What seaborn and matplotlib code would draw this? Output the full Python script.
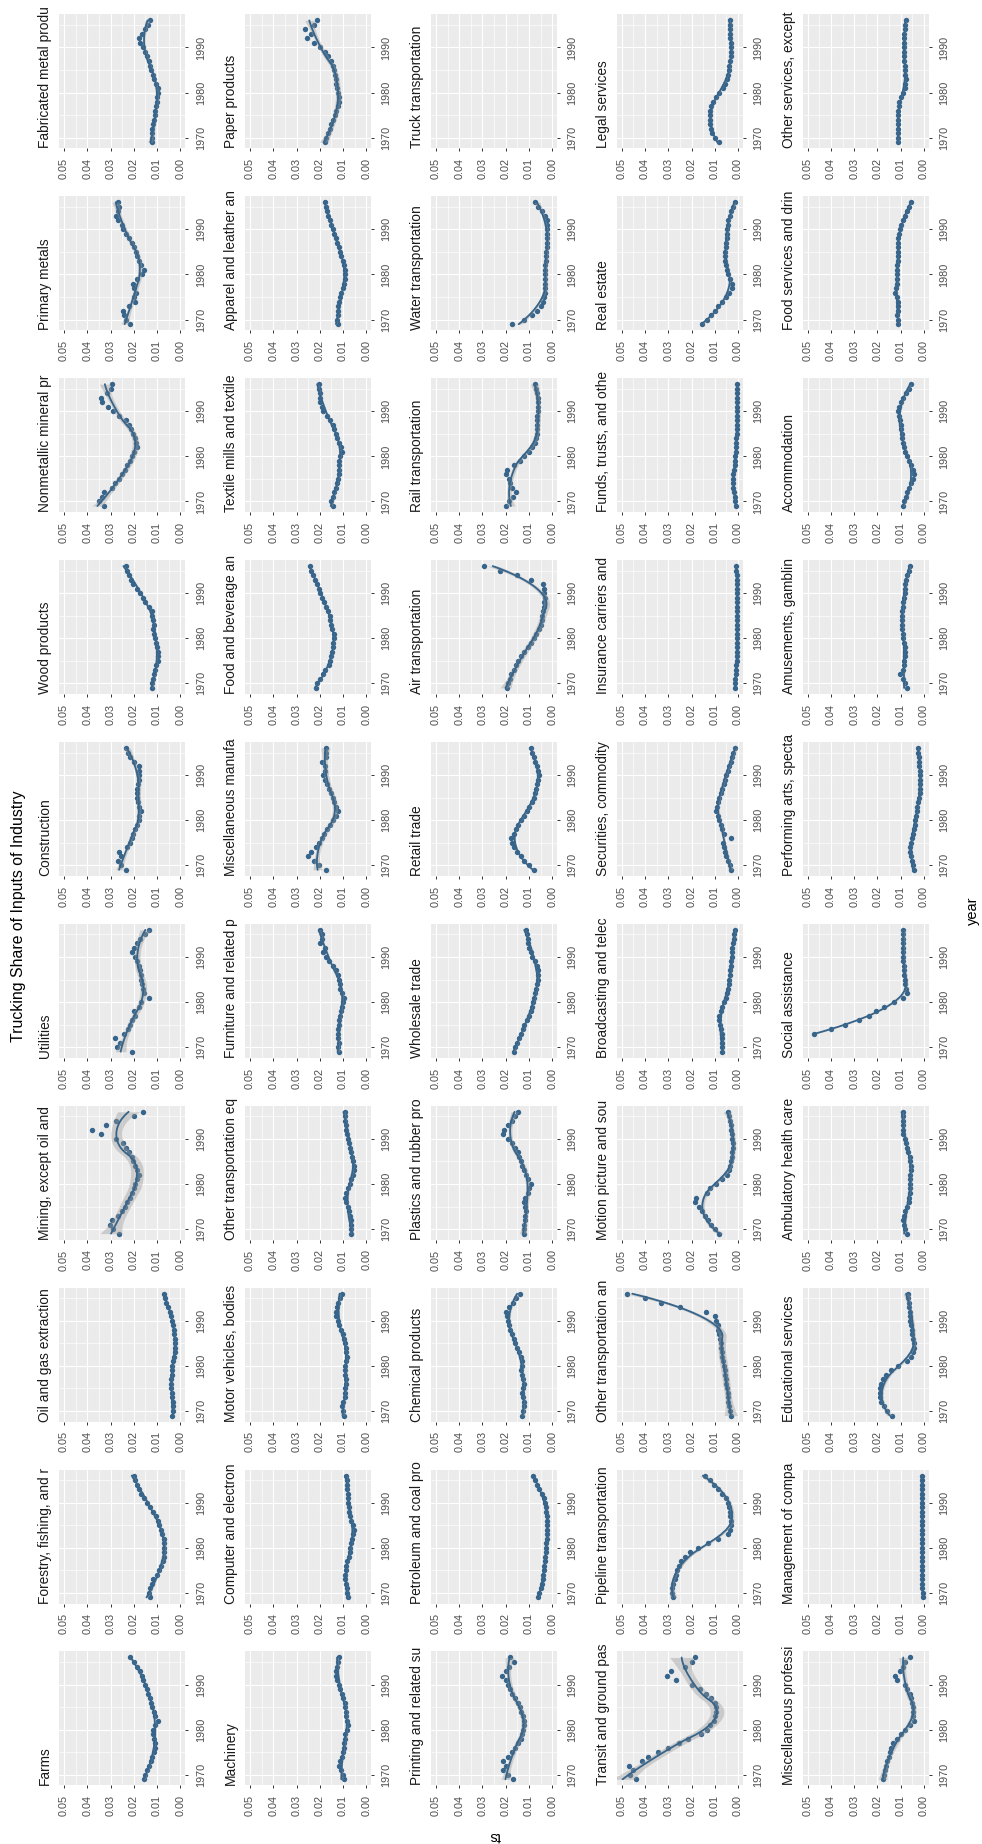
import numpy as np
import matplotlib
matplotlib.use("Agg")
import matplotlib.pyplot as plt
import seaborn as sns

# ---- data ----
years = list(range(1969, 1997))

industries = [
    "Farms", "Forestry, fishing, and related activities", "Oil and gas extraction",
    "Mining, except oil and gas", "Utilities", "Construction", "Wood products",
    "Nonmetallic mineral products", "Primary metals", "Fabricated metal products",
    "Machinery", "Computer and electronic products",
    "Motor vehicles, bodies and trailers, and parts", "Other transportation equipment",
    "Furniture and related products", "Miscellaneous manufacturing",
    "Food and beverage and tobacco products", "Textile mills and textile product mills",
    "Apparel and leather and allied products", "Paper products",
    "Printing and related support activities", "Petroleum and coal products",
    "Chemical products", "Plastics and rubber products", "Wholesale trade",
    "Retail trade", "Air transportation", "Rail transportation",
    "Water transportation", "Truck transportation",
    "Transit and ground passenger transportation", "Pipeline transportation",
    "Other transportation and support activities",
    "Motion picture and sound recording industries",
    "Broadcasting and telecommunications",
    "Securities, commodity contracts, and investments",
    "Insurance carriers and related activities",
    "Funds, trusts, and other financial vehicles", "Real estate", "Legal services",
    "Miscellaneous professional, scientific, and technical services",
    "Management of companies and enterprises", "Educational services",
    "Ambulatory health care services", "Social assistance",
    "Performing arts, spectator sports, museums, and related activities",
    "Amusements, gambling, and recreation industries", "Accommodation",
    "Food services and drinking places", "Other services, except government",
]

farms = [.0155, .0151, .0145, .0137, .0128, .0120, .0112,
         .0107, .0110, .0114, .0116, .0118, .0110, .0097,
         .0108, .0115, .0120, .0126, .0132, .0138, .0145,
         .0152, .0160, .0166, .0175, .0185, .0201, .0218]
forestry = [.0130, .0136, .0130, .0124, .0116, .0102, .0092,
            .0082, .0074, .0071, .0070, .0071, .0072, .0071,
            .0078, .0085, .0092, .0098, .0104, .0118, .0132,
            .0145, .0158, .0168, .0178, .0188, .0195, .0201]
oil_gas = [.0037, .0032, .0030, .0032, .0035, .0037, .0040,
           .0042, .0040, .0038, .0037, .0034, .0030, .0027,
           .0025, .0024, .0024, .0024, .0026, .0028, .0030,
           .0035, .0040, .0045, .0052, .0060, .0066, .0071]
mining = [.0262, .0290, .0302, .0294, .0268, .0250, .0240,
          .0228, .0218, .0209, .0200, .0196, .0185, .0177,
          .0185, .0196, .0205, .0209, .0222, .0235, .0248,
          .0275, .0341, .0381, .0320, .0275, .0201, .0161]
utilities = [.0208, .0272, .0258, .0279, .0244, .0226, .0215,
             .0208, .0194, .0200, .0180, .0170, .0137, .0158,
             .0160, .0165, .0168, .0170, .0172, .0180, .0187,
             .0195, .0208, .0201, .0185, .0172, .0150, .0137]
construction = [.0235, .0257, .0268, .0254, .0262, .0228, .0218,
                .0210, .0205, .0196, .0186, .0180, .0176, .0170,
                .0178, .0183, .0186, .0188, .0185, .0182, .0180,
                .0177, .0176, .0178, .0200, .0215, .0225, .0235]
wood = [.0122, .0120, .0116, .0112, .0108, .0103, .0098,
        .0095, .0098, .0102, .0105, .0108, .0112, .0116,
        .0115, .0117, .0120, .0122, .0135, .0150, .0162,
        .0172, .0185, .0205, .0212, .0222, .0228, .0235]
nonmetallic = [.0330, .0348, .0335, .0328, .0295, .0280, .0262,
               .0250, .0240, .0228, .0218, .0209, .0200, .0185,
               .0190, .0196, .0205, .0212, .0222, .0235, .0262,
               .0288, .0310, .0335, .0340, .0315, .0300, .0294]
primary_metals = [.0215, .0235, .0242, .0245, .0222, .0196, .0200,
                  .0190, .0200, .0204, .0185, .0165, .0158, .0170,
                  .0176, .0185, .0192, .0200, .0210, .0220, .0232,
                  .0245, .0252, .0268, .0276, .0268, .0265, .0268]
fabricated = [.0124, .0122, .0120, .0122, .0118, .0112, .0108,
              .0110, .0105, .0100, .0100, .0097, .0098, .0105,
              .0112, .0118, .0125, .0130, .0135, .0142, .0150,
              .0160, .0172, .0180, .0166, .0150, .0138, .0130]
machinery = [.0097, .0102, .0110, .0118, .0112, .0105, .0100,
             .0097, .0095, .0093, .0090, .0084, .0078, .0082,
             .0086, .0089, .0091, .0093, .0099, .0105, .0112,
             .0118, .0126, .0131, .0128, .0124, .0121, .0118]
computer = [.0078, .0082, .0084, .0088, .0090, .0092, .0088,
            .0085, .0082, .0076, .0071, .0068, .0066, .0062,
            .0056, .0052, .0058, .0065, .0070, .0073, .0075,
            .0077, .0078, .0080, .0082, .0084, .0084, .0085]
motor_vehicles = [.0097, .0100, .0105, .0098, .0093, .0092, .0090,
                  .0087, .0088, .0090, .0092, .0090, .0087, .0084,
                  .0086, .0089, .0092, .0096, .0102, .0110, .0118,
                  .0123, .0128, .0131, .0126, .0120, .0112, .0105]
other_trans_equip = [.0065, .0066, .0065, .0067, .0070, .0074, .0078,
                     .0086, .0092, .0088, .0080, .0072, .0064, .0058,
                     .0054, .0052, .0055, .0060, .0064, .0070, .0074,
                     .0078, .0082, .0086, .0088, .0090, .0092, .0092]
furniture = [.0118, .0120, .0119, .0121, .0123, .0120, .0118,
             .0118, .0114, .0110, .0105, .0100, .0097, .0104,
             .0112, .0115, .0117, .0120, .0132, .0145, .0160,
             .0172, .0184, .0176, .0197, .0189, .0192, .0197]
misc_mfg = [.0172, .0203, .0224, .0250, .0237, .0215, .0205,
            .0190, .0180, .0168, .0158, .0145, .0130, .0123,
            .0131, .0138, .0144, .0152, .0160, .0170, .0178,
            .0184, .0176, .0178, .0189, .0175, .0171, .0172]
food_bev = [.0215, .0210, .0198, .0188, .0178, .0160, .0154,
            .0150, .0147, .0144, .0142, .0140, .0138, .0146,
            .0150, .0154, .0158, .0164, .0171, .0180, .0190,
            .0198, .0205, .0211, .0220, .0229, .0236, .0242]
textile = [.0144, .0150, .0145, .0139, .0132, .0124, .0122,
           .0119, .0118, .0118, .0117, .0113, .0105, .0110,
           .0118, .0126, .0132, .0138, .0144, .0155, .0170,
           .0184, .0190, .0197, .0198, .0200, .0203, .0203]
apparel = [.0123, .0124, .0123, .0122, .0120, .0118, .0113,
           .0107, .0100, .0096, .0093, .0092, .0092, .0096,
           .0102, .0108, .0114, .0118, .0125, .0131, .0138,
           .0144, .0150, .0156, .0163, .0168, .0173, .0177]
paper = [.0176, .0172, .0166, .0158, .0150, .0142, .0135,
         .0128, .0122, .0118, .0118, .0123, .0126, .0128,
         .0131, .0134, .0138, .0144, .0152, .0165, .0176,
         .0197, .0224, .0255, .0237, .0262, .0225, .0211]
printing = [.0168, .0190, .0212, .0200, .0210, .0190, .0172,
            .0158, .0146, .0136, .0128, .0124, .0120, .0122,
            .0127, .0134, .0140, .0146, .0160, .0172, .0182,
            .0191, .0200, .0215, .0198, .0186, .0165, .0181]
petroleum = [.0060, .0055, .0050, .0045, .0041, .0038, .0035,
             .0033, .0032, .0030, .0028, .0027, .0025, .0023,
             .0022, .0022, .0022, .0022, .0024, .0026, .0028,
             .0031, .0035, .0044, .0055, .0066, .0075, .0082]
chemical = [.0128, .0125, .0122, .0120, .0124, .0128, .0124,
            .0120, .0125, .0130, .0133, .0130, .0128, .0136,
            .0144, .0152, .0160, .0166, .0174, .0181, .0186,
            .0191, .0195, .0200, .0185, .0170, .0155, .0140]
plastics = [.0120, .0122, .0120, .0118, .0115, .0112, .0116,
            .0120, .0115, .0106, .0100, .0093, .0102, .0112,
            .0122, .0130, .0136, .0142, .0146, .0160, .0172,
            .0190, .0212, .0205, .0191, .0172, .0160, .0146]
wholesale = [.0165, .0158, .0150, .0142, .0135, .0127, .0120,
             .0110, .0101, .0093, .0087, .0082, .0077, .0073,
             .0069, .0066, .0063, .0062, .0063, .0067, .0075,
             .0085, .0093, .0100, .0104, .0106, .0108, .0112]
retail = [.0080, .0100, .0120, .0135, .0150, .0162, .0172,
          .0175, .0166, .0155, .0146, .0133, .0122, .0110,
          .0098, .0088, .0080, .0074, .0068, .0064, .0060,
          .0058, .0060, .0066, .0072, .0080, .0087, .0093]
air = [.0195, .0190, .0182, .0175, .0165, .0155, .0146,
       .0132, .0120, .0105, .0093, .0080, .0068, .0058,
       .0050, .0045, .0042, .0040, .0036, .0033, .0032,
       .0033, .0035, .0040, .0090, .0150, .0226, .0292]
rail = [.0198, .0186, .0170, .0154, .0173, .0181, .0185,
        .0198, .0196, .0165, .0140, .0120, .0100, .0085,
        .0075, .0069, .0067, .0067, .0066, .0065, .0064,
        .0063, .0062, .0062, .0063, .0066, .0070, .0075]
water = [.0172, .0120, .0085, .0067, .0048, .0040, .0034,
         .0032, .0032, .0032, .0032, .0032, .0031, .0030,
         .0028, .0027, .0025, .0023, .0022, .0022, .0022,
         .0022, .0022, .0024, .0032, .0045, .0060, .0072]
truck = []  # no data shown for the industry itself
transit = [.0440, .0465, .0450, .0470, .0412, .0386, .0346,
           .0300, .0253, .0214, .0160, .0135, .0121, .0105,
           .0100, .0095, .0095, .0098, .0115, .0140, .0165,
           .0200, .0265, .0306, .0290, .0230, .0200, .0187]
pipeline = [.0280, .0285, .0282, .0280, .0272, .0266, .0262,
            .0255, .0245, .0227, .0205, .0174, .0130, .0085,
            .0045, .0035, .0029, .0030, .0034, .0036, .0040,
            .0045, .0052, .0068, .0085, .0105, .0121, .0142]
other_trans_support = [.0029, .0034, .0038, .0042, .0043, .0044, .0047,
                       .0050, .0052, .0055, .0058, .0062, .0065, .0067,
                       .0069, .0072, .0075, .0078, .0082, .0085, .0088,
                       .0095, .0100, .0140, .0250, .0330, .0400, .0478]
motion = [.0081, .0100, .0115, .0128, .0142, .0155, .0169,
          .0187, .0179, .0134, .0121, .0095, .0068, .0047,
          .0038, .0034, .0030, .0028, .0025, .0023, .0023,
          .0024, .0026, .0029, .0032, .0036, .0040, .0042]
broadcasting = [.0068, .0068, .0069, .0070, .0071, .0073, .0076,
                .0081, .0080, .0075, .0068, .0060, .0052, .0046,
                .0042, .0039, .0037, .0035, .0034, .0032, .0030,
                .0028, .0026, .0024, .0021, .0019, .0017, .0015]
securities = [.0029, .0036, .0044, .0050, .0055, .0060, .0063,
              .0030, .0062, .0068, .0074, .0081, .0088, .0095,
              .0090, .0085, .0080, .0074, .0068, .0062, .0056,
              .0050, .0044, .0038, .0032, .0026, .0020, .0015]
insurance = [.0015, .0013, .0011, .0010, .0008, .0007, .0006,
             .0006, .0005, .0005, .0005, .0005, .0005, .0005,
             .0005, .0005, .0005, .0005, .0005, .0005, .0005,
             .0005, .0005, .0005, .0006, .0006, .0007, .0007]
funds = [.0010, .0012, .0014, .0017, .0020, .0021, .0021,
         .0020, .0018, .0015, .0013, .0011, .0010, .0009,
         .0008, .0007, .0006, .0006, .0005, .0005, .0005,
         .0005, .0004, .0004, .0004, .0003, .0003, .0003]
real_estate = [.0153, .0134, .0118, .0100, .0085, .0070, .0052,
               .0040, .0024, .0025, .0035, .0042, .0048, .0053,
               .0055, .0055, .0054, .0052, .0050, .0049, .0047,
               .0046, .0044, .0042, .0036, .0029, .0022, .0015]
legal = [.0081, .0098, .0110, .0116, .0120, .0121, .0122,
         .0121, .0116, .0108, .0097, .0080, .0065, .0056,
         .0048, .0043, .0040, .0037, .0034, .0032, .0030,
         .0029, .0030, .0033, .0034, .0034, .0034, .0034]
misc_prof = [.0176, .0172, .0168, .0163, .0158, .0152, .0147,
             .0140, .0133, .0118, .0100, .0080, .0060, .0042,
             .0045, .0046, .0048, .0052, .0056, .0062, .0072,
             .0083, .0118, .0125, .0104, .0092, .0083, .0060]
management = [.0006, .0006, .0007, .0007, .0007, .0008, .0008,
              .0008, .0008, .0008, .0009, .0009, .0009, .0009,
              .0009, .0009, .0009, .0009, .0010, .0010, .0010,
              .0010, .0010, .0010, .0010, .0010, .0010, .0010]
educational = [.0136, .0157, .0172, .0185, .0189, .0190, .0188,
               .0184, .0175, .0162, .0140, .0110, .0075, .0055,
               .0045, .0043, .0043, .0046, .0050, .0053, .0056,
               .0058, .0060, .0062, .0064, .0066, .0068, .0070]
ambulatory = [.0075, .0080, .0086, .0091, .0086, .0080, .0072,
              .0066, .0063, .0062, .0061, .0060, .0059, .0058,
              .0057, .0057, .0058, .0062, .0067, .0073, .0078,
              .0083, .0088, .0091, .0091, .0091, .0091, .0091]
# values above 0.05 fall outside the plotted range
social = [None, None, None, None, .0472, .0400, .0340,
          .0280, .0235, .0205, .0170, .0130, .0092, .0075,
          .0078, .0080, .0083, .0084, .0086, .0087, .0088,
          .0088, .0088, .0088, .0088, .0088, .0088, .0088]
performing = [.0043, .0047, .0052, .0057, .0062, .0060, .0057,
              .0052, .0048, .0043, .0040, .0038, .0036, .0032,
              .0028, .0025, .0022, .0019, .0017, .0017, .0017,
              .0017, .0019, .0021, .0022, .0023, .0024, .0025]
amusements = [.0075, .0083, .0092, .0101, .0091, .0087, .0084,
              .0083, .0083, .0083, .0085, .0088, .0091, .0093,
              .0095, .0096, .0095, .0093, .0091, .0088, .0085,
              .0083, .0083, .0083, .0078, .0072, .0066, .0062]
accommodation = [.0088, .0084, .0078, .0071, .0064, .0057, .0048,
                 .0043, .0048, .0057, .0066, .0074, .0081, .0086,
                 .0091, .0094, .0096, .0098, .0100, .0103, .0107,
                 .0110, .0107, .0098, .0089, .0078, .0066, .0057]
food_svc = [.0110, .0113, .0115, .0113, .0110, .0112, .0118,
            .0123, .0120, .0117, .0115, .0115, .0115, .0115,
            .0113, .0112, .0110, .0110, .0110, .0110, .0108,
            .0104, .0098, .0090, .0082, .0072, .0064, .0057]
other_svc = [.0111, .0111, .0111, .0111, .0110, .0110, .0110,
             .0110, .0109, .0108, .0100, .0090, .0083, .0080,
             .0079, .0080, .0082, .0083, .0084, .0084, .0085,
             .0086, .0087, .0087, .0087, .0083, .0080, .0077]

series = [farms, forestry, oil_gas, mining, utilities, construction, wood,
          nonmetallic, primary_metals, fabricated,
          machinery, computer, motor_vehicles, other_trans_equip, furniture,
          misc_mfg, food_bev, textile, apparel, paper,
          printing, petroleum, chemical, plastics, wholesale, retail, air,
          rail, water, truck,
          transit, pipeline, other_trans_support, motion, broadcasting,
          securities, insurance, funds, real_estate, legal,
          misc_prof, management, educational, ambulatory, social, performing,
          amusements, accommodation, food_svc, other_svc]

ts_ticks = [0.00, 0.01, 0.02, 0.03, 0.04, 0.05]
ts_labels = ["0.00", "0.01", "0.02", "0.03", "0.04", "0.05"]
year_ticks = [1970, 1980, 1990]


def t975(df):
    # 97.5% Student t quantile (Cornish-Fisher expansion)
    z = 1.959964
    g1 = (z**3 + z) / 4
    g2 = (5 * z**5 + 16 * z**3 + 3 * z) / 96
    g3 = (3 * z**7 + 19 * z**5 + 17 * z**3 - 15 * z) / 384
    return z + g1 / df + g2 / df**2 + g3 / df**3


def loess(x, y, xs, span=0.75):
    # local quadratic fit with tricube weights, like R's loess()
    n = len(x)
    q = int(np.floor(n * span))

    def row(x0):
        d = np.abs(x - x0)
        h = np.sort(d)[q - 1] * 1.0001
        w = (1 - np.clip(d / h, 0, 1) ** 3) ** 3
        X = np.column_stack([np.ones(n), x - x0, (x - x0) ** 2])
        XtW = X.T * w
        return np.linalg.solve(XtW @ X, XtW)[0]

    L = np.array([row(v) for v in x])
    M = np.eye(n) - L
    MM = M.T @ M
    d1 = np.trace(MM)
    d2 = np.trace(MM @ MM)
    s = np.sqrt(np.sum((M @ y) ** 2) / d1)
    Ls = np.array([row(v) for v in xs])
    fit = Ls @ y
    se = s * np.sqrt(np.sum(Ls ** 2, axis=1))
    t = t975(d1 ** 2 / d2)
    return fit, fit - t * se, fit + t * se


sns.set_style("darkgrid", {"axes.facecolor": "#EBEBEB", "grid.color": "white"})
plt.rcParams['font.family'] = ['Liberation Sans', 'DejaVu Sans']

W, H = 982, 1844
fig = plt.figure(figsize=(W / 100, H / 100), dpi=100)
renderer = fig.canvas.get_renderer()


def rect(left, top, w, h):
    return [left / W, 1 - (top + h) / H, w / W, h / H]


PT = "#36648B"
col_left = [59 + 185.9 * c for c in range(5)]
row_top = [14.3 + 181.9 * r for r in range(10)]
pw, ph = 126, 134
strip_room = ph + 9     # the strip text is cut off a little above the panel

for k, name in enumerate(industries):
    orow, ocol = divmod(k, 10)
    c, r = orow, 9 - ocol          # picture is turned a quarter turn
    ax = fig.add_axes(rect(col_left[c], row_top[r], pw, ph))
    vals = np.array(series[k], dtype=float)
    if len(vals):
        yr = np.array(years, dtype=float)
        ok = ~np.isnan(vals)
        sns.scatterplot(x=vals, y=yr, ax=ax, color=PT, s=15, linewidth=0,
                        legend=False, zorder=3)
        xs = np.linspace(yr[ok].min(), yr[ok].max(), 80)
        fit, lo, hi = loess(yr[ok], vals[ok], xs)
        ax.fill_betweenx(xs, lo, hi, color="#999999", alpha=0.4, lw=0, zorder=4)
        ax.plot(fit, xs, color=PT, lw=1.3, zorder=5)

    ax.set_xlim(0.0522, -0.0020)
    ax.set_ylim(1967.65, 1997.35)
    ax.set_xticks(ts_ticks)
    ax.set_xticklabels(ts_labels)
    ax.set_xticks([0.005, 0.015, 0.025, 0.035, 0.045], minor=True)
    ax.set_yticks(year_ticks)
    ax.set_yticklabels([str(v) for v in year_ticks])
    ax.set_yticks([1975, 1985, 1995], minor=True)
    ax.yaxis.tick_right()
    ax.grid(which="major", color="white", lw=0.85)
    ax.grid(which="minor", color="white", lw=0.45)
    ax.set_axisbelow(True)
    ax.set_xlabel("")
    ax.set_ylabel("")
    for sp in ax.spines.values():
        sp.set_visible(False)
    ax.tick_params(which="minor", length=0)
    ax.tick_params(axis="x", which="major", length=2.5, width=0.7,
                   color="#333333", pad=4.5, labelsize=7.8,
                   labelcolor="#4D4D4D", labelrotation=90, bottom=True)
    ax.tick_params(axis="y", which="major", length=2.5, width=0.7,
                   color="#333333", pad=5.2, labelsize=7.8,
                   labelcolor="#4D4D4D", labelrotation=90, right=True,
                   left=False)
    for lab in ax.get_yticklabels():
        lab.set_va("center")

    # facet strip label: the long names are cut at the strip's end
    txt = fig.text((49 + 185.9 * c) / W, 1 - (row_top[r] + ph) / H, name,
                   rotation=90, rotation_mode="anchor", ha="left",
                   va="baseline", fontsize=9.9, color="#1A1A1A")
    shown = name
    while txt.get_window_extent(renderer).height > strip_room:
        shown = shown[:-1]
        txt.set_text(shown.rstrip())

fig.text(19 / W, 1 - 916 / H, "Trucking Share of Inputs of Industry",
         rotation=90, ha="center", va="center", fontsize=11.4, color="black")
fig.text(973 / W, 1 - 911 / H, "year", rotation=90, ha="center",
         va="center", fontsize=10.5, color="black")
fig.text(495 / W, 1 - 1836 / H, "ts", rotation=180, ha="center",
         va="center", fontsize=10.5, color="black")

fig.savefig("out.png", dpi=100, facecolor="white")
